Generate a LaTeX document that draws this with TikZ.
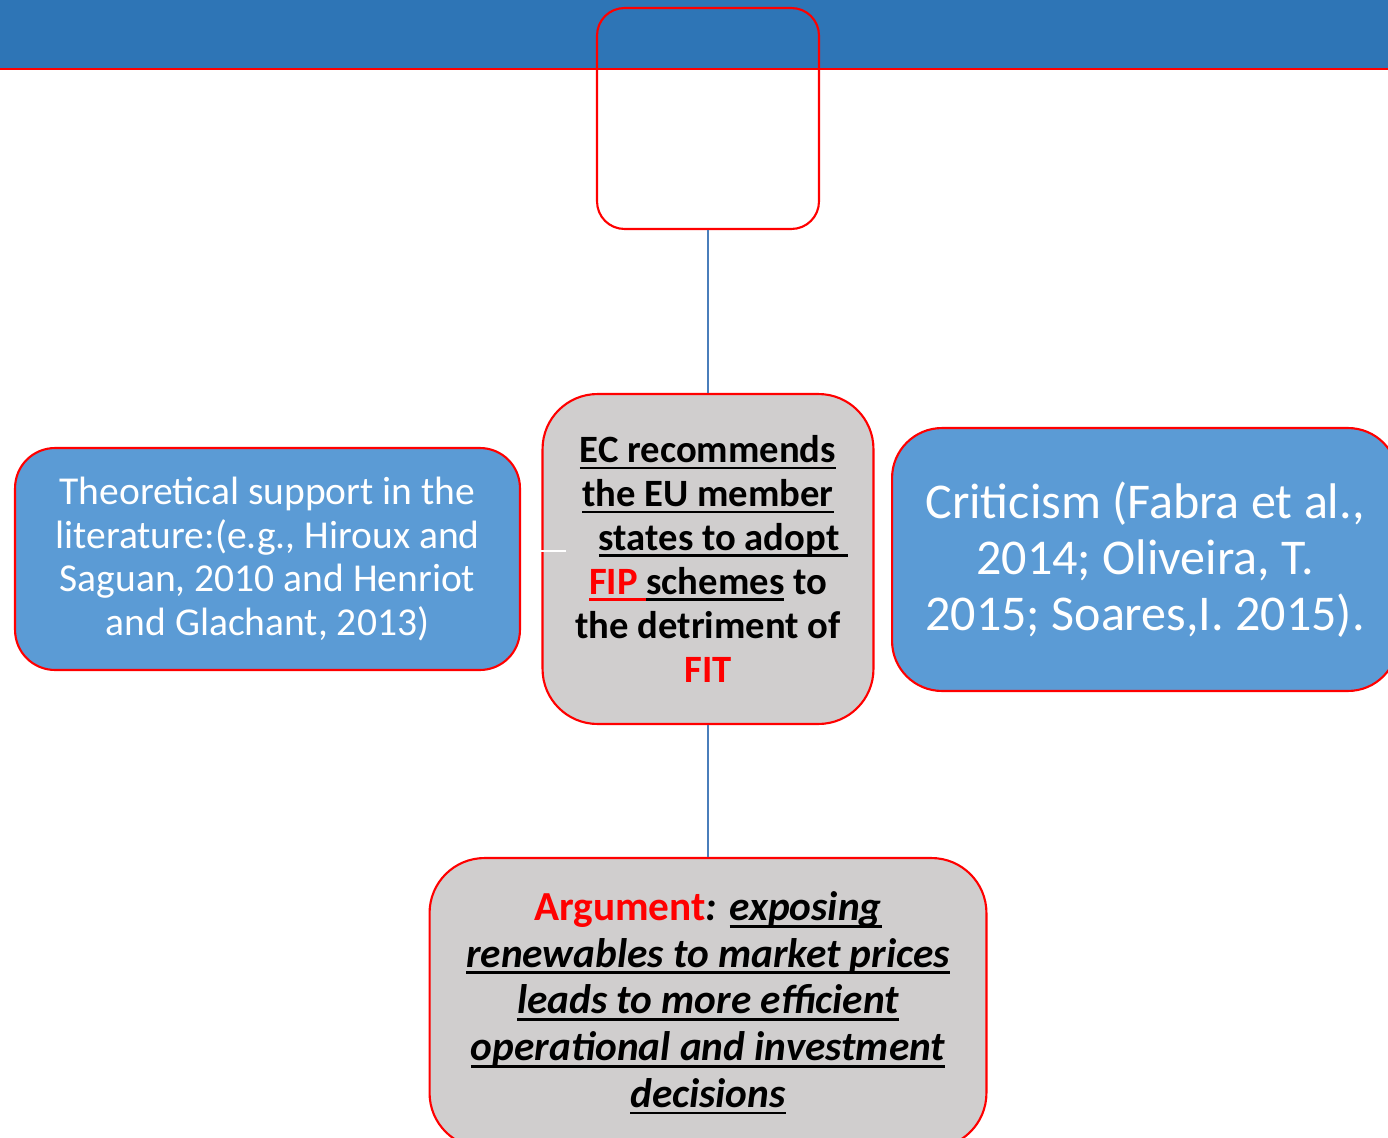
\documentclass[tikz,border=0pt]{standalone}
\usepackage{fontspec}
\setmainfont{Carlito}
\definecolor{barblue}{HTML}{2E75B6}
\definecolor{boxblue}{HTML}{5B9BD5}
\definecolor{boxgray}{HTML}{D0CECE}
\definecolor{linkblue}{HTML}{4A7EBB}
\newcommand{\undl}[1]{\setbox0\hbox{#1}\rlap{\rule[-0.17em]{\wd0}{0.07em}}\box0}

\begin{document}
\begin{tikzpicture}[
        x=0.02cm, y=-0.02cm,
        box/.style={draw=red, line width=1.2pt, align=center, inner sep=0pt},
        bluebox/.style={box, fill=boxblue, text=white},
        graybox/.style={box, fill=boxgray},
        link/.style={draw=linkblue, line width=0.9pt}
    ]
        \useasboundingbox (0,0) rectangle (1388,1138);
        \clip (0,0) rectangle (1388,1138);

        % header bar
        \fill[barblue] (0,0) rectangle (1388,69);
        \draw[red, line width=1.2pt] (0,69) -- (1388,69);

        % boxes
        \node[box, minimum width=4.44cm, minimum height=4.42cm, rounded corners=0.55cm] (top) at (708,118.5) {};
        \node[graybox, minimum width=6.62cm, minimum height=6.6cm, rounded corners=1.1cm,
              font=\fontsize{22}{25}\selectfont\bfseries] (ec) at (708,559)
            {\undl{EC recommends}\\
             \undl{the EU member}\\
             \hspace*{0.8em}\undl{states to adopt\ }\\
             {\color{red}\undl{FIP\ }}\undl{schemes}\ to\\
             the detriment of\\
             {\color{red}FIT}};
        \node[bluebox, minimum width=10.1cm, minimum height=4.44cm, rounded corners=0.8cm,
              font=\fontsize{22.5}{25}\selectfont] (theory) at (267.5,559)
            {Theoretical support in the\\
             literature:(e.g., Hiroux and\\
             Saguan, 2010 and Henriot\\
             and Glachant, 2013)};
        \node[bluebox, minimum width=10.12cm, minimum height=5.26cm, rounded corners=1cm,
              font=\fontsize{28.5}{31.7}\selectfont] (critic) at (1145,559.5)
            {Criticism (Fabra et al.,\\
             2014; Oliveira, T.\\
             2015; Soares,I. 2015).};
        \node[graybox, minimum width=11.14cm, minimum height=5.8cm, rounded corners=1.1cm,
              font=\fontsize{23.5}{26.6}\selectfont\bfseries\itshape] (arg) at (708,1003)
            {{\color{red}\upshape Argument}: \undl{exposing}\\
             \undl{renewables to market prices}\\
             \undl{leads to more efficient}\\
             \undl{operational and investment}\\
             \undl{decisions}};

        % connectors
        \draw[link] (top.south) -- (ec.north);
        \draw[link] (ec.south) -- (arg.north);
        \coordinate (tick) at (566,551);
        \draw[white, line width=1pt] (ec.west |- tick) -- (tick);
    \end{tikzpicture}
\end{document}
